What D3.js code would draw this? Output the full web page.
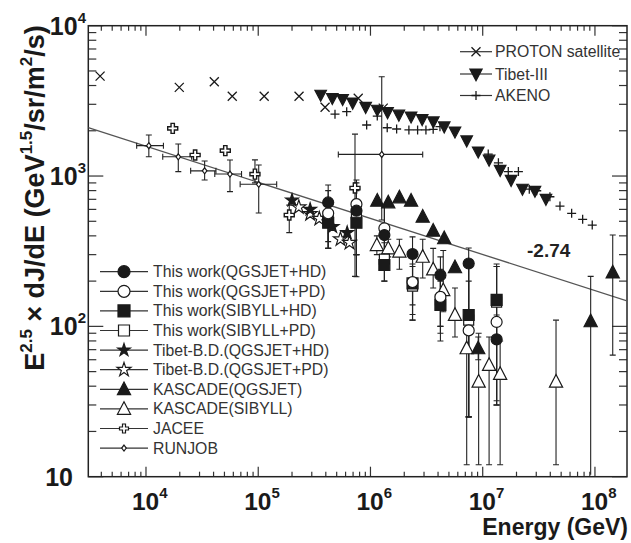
<!DOCTYPE html>
<html><head><meta charset="utf-8">
<script src="https://cdn.jsdelivr.net/npm/d3@7/dist/d3.min.js"></script>
<style>body{margin:0;background:#fff}svg{display:block}</style>
</head><body>
<script>
// ---------------- DATA ----------------
const xTickExponents = [4, 5, 6, 7, 8];
const yTickLabels = ["10", "10^2", "10^3", "10^4"];
const yTickValues = [10, 100, 1000, 10000];

const protonE = [3.9e3, 1.98e4, 4.06e4, 5.87e4, 1.13e5, 2.31e5, 3.94e5, 7.78e5, 1.3e6];
const protonF = [4620, 3890, 4240, 3390, 3390, 3390, 2865, 3290, 2830];

const tibetE = [3.6e5, 4.57e5, 5.65e5, 6.94e5, 9.06e5, 1.15e6, 1.42e6, 1.79e6, 2.30e6, 2.89e6, 3.63e6, 4.54e6, 5.66e6, 7.2e6, 9.12e6, 1.14e7, 1.43e7, 1.79e7, 2.26e7, 2.92e7, 3.66e7];
const tibetF = [3460, 3290, 3240, 3070, 2870, 2750, 2650, 2550, 2480, 2385, 2300, 2130, 1970, 1720, 1450, 1280, 1095, 940, 820, 795, 703];

const akenoE = [4.83e5, 6.14e5, 9.25e5, 1.15e6, 1.41e6, 1.71e6, 2.2e6, 2.63e6, 3.12e6, 3.62e6, 4.16e6, 1.12e7, 1.38e7, 1.69e7, 2.08e7, 2.6e7, 3.03e7, 3.97e7, 4.88e7, 6.2e7, 7.77e7, 9.46e7];
const akenoF = [2580, 2680, 2185, 2505, 2095, 2055, 2025, 2025, 2025, 2045, 2130, 1400, 1225, 1070, 1070, 818, 798, 728, 631, 565, 515, 472];

const jaceeE = [1.73e4, 2.74e4, 5.09e4, 9.35e4, 1.89e5, 7.28e5];
const jaceeF = [2075, 1380, 1475, 1030, 550, 832];
const jaceeLo = [2075, 1380, 1475, 900, 420, 215];
const jaceeHi = [2075, 1380, 1475, 1280, 640, 1900];

const runjobE = [1.06e4, 1.94e4, 3.33e4, 5.6e4, 1.01e5, 1.26e6];
const runjobF = [1592, 1343, 1083, 1031, 881, 1393];
const runjobLo = [1343, 1070, 940, 787, 568, 510];
const runjobHi = [1875, 1633, 1260, 1278, 1183, 4580];
const runjobEmin = [8.26e3, 1.41e4, 2.5e4, 4.1e4, 6.9e4, 5.17e5];
const runjobEmax = [1.43e4, 2.55e4, 4.2e4, 7.1e4, 1.46e5, 2.92e6];

const workE = [4.2e5, 7.5e5, 1.33e6, 2.37e6, 4.2e6, 7.5e6, 1.33e7];
const qgsHdF = [667, 588, 405, 303, 219, 262, 82];
const qgsHdLo = [366, 214, 256, 139, 90, 25, 32];
const qgsHdHi = [871, 940, 641, 394, 290, 332, 119];
const qgsPdF = [565, 650, 449, 197, 157, 94, 107];
const qgsPdLo = [330, 300, 260, 120, 80, 25, 30];
const qgsPdHi = [800, 900, 640, 290, 240, 200, 250];
const sibHdF = [489, 489, 256, 193, 139, 119, 150];
const sibHdLo = [330, 300, 200, 110, 100, 25, 30];
const sibHdHi = [640, 700, 320, 260, 200, 250, 250];
const sibPdF = [540, 560, 280, 185, 150, 110, 145];
const sibPdLo = [330, 300, 200, 110, 100, 25, 30];
const sibPdHi = [700, 800, 360, 250, 210, 250, 260];

const bdHdE = [2.0e5, 2.9e5, 4.6e5, 6.2e5];
const bdHdF = [690, 600, 460, 420];
const bdPdE = [2.3e5, 2.9e5, 3.5e5, 5.4e5, 6.5e5];
const bdPdF = [620, 560, 520, 380, 360];

const kasQE = [1.15e6, 1.44e6, 1.81e6, 2.30e6, 2.92e6, 3.62e6, 4.54e6, 5.66e6, 9.12e6, 9.16e7, 1.44e8];
const kasQF = [685, 667, 721, 685, 536, 432, 385, 247, 71.4, 108, 228];
const kasQLo = [685, 667, 721, 685, 536, 432, 385, 247, 60, 9, 64.4];
const kasQHi = [685, 667, 721, 685, 536, 432, 385, 247, 85, 215, 405];

const kasSE = [1.14e6, 1.44e6, 1.81e6, 2.92e6, 3.62e6, 4.45e6, 5.66e6, 7.2e6, 9.2e6, 1.14e7, 1.43e7, 4.5e7];
const kasSF = [347, 330, 314, 290, 239, 174, 119, 71.4, 42.8, 55.3, 48.2, 42.8];
const kasSLo = [300, 290, 240, 210, 180, 125, 85, 12, 12, 12, 12, 12];
const kasSHi = [400, 380, 380, 380, 330, 320, 180, 120, 90, 85, 80, 110];

const fitIndex = -2.74;
const fitNorm = Math.pow(10, 4.158); // E^2.5 dJ/dE = fitNorm * E^(2.5+index)

// ---------------- LAYOUT ----------------
const W = 631, H = 543;
const svg = d3.select("body").append("svg").attr("width", W).attr("height", H);
const FONT = "'Liberation Sans', Arial, Helvetica, sans-serif";
const INK = "#1a1a1a";

const x = d3.scaleLog().domain([3062, 1.93e8]).range([88.3, 627]);
const y = d3.scaleLog().domain([10, 1e4]).range([476.7, 25.7]);
const [x0, x1] = x.range(), [y0, y1] = [y.range()[1], y.range()[0]];

const g = svg.append("g");
const defs = svg.append("defs");
defs.append("clipPath").attr("id", "clip").append("rect")
  .attr("x", x0).attr("y", y0).attr("width", x1 - x0).attr("height", y1 - y0);

// ticks
const minorX = [], majorX = [];
for (let e = 3; e <= 8; e++) for (let m = 1; m <= 9; m++) {
  const v = m * Math.pow(10, e);
  if (v < x.domain()[0] || v > x.domain()[1]) continue;
  (m === 1 ? majorX : minorX).push(v);
}
const minorY = [], majorY = [];
for (let e = 1; e <= 4; e++) for (let m = 1; m <= 9; m++) {
  const v = m * Math.pow(10, e);
  if (v < 10 || v > 1e4) continue;
  (m === 1 ? majorY : minorY).push(v);
}
const tk = g.append("g").attr("stroke", "#333").attr("stroke-width", 1.2);
function hTick(v, len) {
  tk.append("line").attr("x1", x(v)).attr("x2", x(v)).attr("y1", y1).attr("y2", y1 - len);
  tk.append("line").attr("x1", x(v)).attr("x2", x(v)).attr("y1", y0).attr("y2", y0 + len);
}
function vTick(v, len) {
  tk.append("line").attr("y1", y(v)).attr("y2", y(v)).attr("x1", x0).attr("x2", x0 + len);
  tk.append("line").attr("y1", y(v)).attr("y2", y(v)).attr("x1", x1).attr("x2", x1 - len);
}
majorX.forEach(v => hTick(v, 10));
minorX.forEach(v => hTick(v, 5));
majorY.forEach(v => vTick(v, 15));
minorY.forEach(v => vTick(v, 8));

// frame
g.append("rect").attr("x", x0).attr("y", y0).attr("width", x1 - x0).attr("height", y1 - y0)
  .attr("fill", "none").attr("stroke", "#222").attr("stroke-width", 1.5);

// tick labels
xTickExponents.forEach(e => {
  const t = g.append("text").attr("x", x(Math.pow(10, e)) - 14).attr("y", 510)
    .attr("font-family", FONT).attr("font-weight", "bold").attr("font-size", 24.5).attr("fill", INK);
  t.append("tspan").text("10");
  t.append("tspan").attr("dy", -12).attr("font-size", 15).text(String(e));
});
yTickValues.forEach((v, i) => {
  const lab = yTickLabels[i];
  const t = g.append("text").attr("y", y(v) + 9).attr("text-anchor", "end")
    .attr("font-family", FONT).attr("font-weight", "bold").attr("font-size", 25).attr("fill", INK);
  if (lab.includes("^")) {
    const [b, p] = lab.split("^");
    t.attr("x", 86);
    t.append("tspan").text(b);
    t.append("tspan").attr("dy", -12).attr("font-size", 15).text(p);
  } else {
    t.attr("x", 73).text(lab);
  }
});

// axis titles
g.append("text").attr("x", 628).attr("y", 535).attr("text-anchor", "end")
  .attr("font-family", FONT).attr("font-weight", "bold").attr("font-size", 23).attr("fill", INK)
  .text("Energy (GeV)");
{
  const t = g.append("text").attr("transform", "translate(44,198) rotate(-90)").attr("text-anchor", "middle")
    .attr("font-family", FONT).attr("font-weight", "bold").attr("font-size", 27).attr("fill", INK);
  t.append("tspan").text("E");
  t.append("tspan").attr("dy", -12).attr("font-size", 17).text("2.5");
  t.append("tspan").attr("dy", 12).text(" \u00d7 dJ/dE (GeV");
  t.append("tspan").attr("dy", -12).attr("font-size", 17).text("1.5");
  t.append("tspan").attr("dy", 12).text("/sr/m");
  t.append("tspan").attr("dy", -12).attr("font-size", 17).text("2");
  t.append("tspan").attr("dy", 12).text("/s)");
}

const plot = g.append("g").attr("clip-path", "url(#clip)");

// fit line
const fitE = [x.domain()[0], x.domain()[1]];
plot.append("path").attr("d", d3.line().x(d => x(d)).y(d => y(fitNorm * Math.pow(d, 2.5 + fitIndex)))(fitE))
  .attr("stroke", "#555").attr("stroke-width", 1.3).attr("fill", "none");
g.append("text").attr("x", 527).attr("y", 257).attr("font-family", FONT).attr("font-weight", "bold")
  .attr("font-size", 19).attr("fill", "#222").text(fitIndex.toFixed(2));

// marker shapes
const shapes = {
  circle: (s) => d3.symbol(d3.symbolCircle, s * s * 0.785)(),
  square: (s) => d3.symbol(d3.symbolSquare, s * s)(),
  triUp: (s) => `M0,${-s * 0.6}L${s * 0.55},${s * 0.45}L${-s * 0.55},${s * 0.45}Z`,
  triDown: (s) => `M0,${s * 0.6}L${s * 0.55},${-s * 0.45}L${-s * 0.55},${-s * 0.45}Z`,
  star: (s) => d3.symbol(d3.symbolStar, s * s * 0.5)(),
  xcross: (s) => `M${-s / 2},${-s / 2}L${s / 2},${s / 2}M${-s / 2},${s / 2}L${s / 2},${-s / 2}`,
  plus: (s) => `M${-s / 2},0L${s / 2},0M0,${-s / 2}L0,${s / 2}`,
  jcross: (s) => { const a = s / 6, b = s / 2; return `M${-a},${-b}L${a},${-b}L${a},${-a}L${b},${-a}L${b},${a}L${a},${a}L${a},${b}L${-a},${b}L${-a},${a}L${-b},${a}L${-b},${-a}L${-a},${-a}Z`; },
  diamond: (s) => `M0,${-s / 2}L${s / 2.6},0L0,${s / 2}L${-s / 2.6},0Z`
};
function drawMarker(sel, shape, size, filled, sw) {
  const line = shape === "xcross" || shape === "plus";
  sel.append("path").attr("d", shapes[shape](size))
    .attr("fill", line ? "none" : (filled ? INK : "#fff"))
    .attr("stroke", INK).attr("stroke-width", sw || 1.2);
}
function errBars(Es, Fs, lo, hi, emin, emax) {
  const eg = plot.append("g").attr("stroke", "#222").attr("stroke-width", 1.1);
  Es.forEach((e, i) => {
    const cx = x(e);
    if (lo && hi && (lo[i] !== Fs[i] || hi[i] !== Fs[i])) {
      eg.append("line").attr("x1", cx).attr("x2", cx).attr("y1", y(Math.max(lo[i], 10.3))).attr("y2", y(hi[i]));
      eg.append("line").attr("x1", cx - 3).attr("x2", cx + 3).attr("y1", y(hi[i])).attr("y2", y(hi[i]));
      if (lo[i] > 10.3) eg.append("line").attr("x1", cx - 3).attr("x2", cx + 3).attr("y1", y(lo[i])).attr("y2", y(lo[i]));
    }
    if (emin && emax) {
      eg.append("line").attr("x1", x(emin[i])).attr("x2", x(emax[i])).attr("y1", y(Fs[i])).attr("y2", y(Fs[i]));
      eg.append("line").attr("x1", x(emin[i])).attr("x2", x(emin[i])).attr("y1", y(Fs[i]) - 3).attr("y2", y(Fs[i]) + 3);
      eg.append("line").attr("x1", x(emax[i])).attr("x2", x(emax[i])).attr("y1", y(Fs[i]) - 3).attr("y2", y(Fs[i]) + 3);
    }
  });
}
function points(Es, Fs, shape, size, filled, sw) {
  const pg = plot.append("g");
  Es.forEach((e, i) => {
    drawMarker(pg.append("g").attr("transform", `translate(${x(e)},${y(Fs[i])})`), shape, size, filled, sw);
  });
}

// error bars first
errBars(runjobE, runjobF, runjobLo, runjobHi, runjobEmin, runjobEmax);
errBars(jaceeE, jaceeF, jaceeLo, jaceeHi);
errBars(workE, qgsHdF, qgsHdLo, qgsHdHi);
errBars(workE, qgsPdF, qgsPdLo, qgsPdHi);
errBars(workE, sibHdF, sibHdLo, sibHdHi);
errBars(workE, sibPdF, sibPdLo, sibPdHi);
errBars(kasQE, kasQF, kasQLo, kasQHi);
errBars(kasSE, kasSF, kasSLo, kasSHi);

// markers
points(protonE, protonF, "xcross", 9, false, 1.3);
points(akenoE, akenoF, "plus", 9, false, 1.3);
points(tibetE, tibetF, "triDown", 10.5, true);
points(runjobE, runjobF, "diamond", 6, false);
points(jaceeE, jaceeF, "jcross", 10, false, 1.4);
points(bdPdE, bdPdF, "star", 11, false);
points(bdHdE, bdHdF, "star", 10, true);
points(kasSE, kasSF, "triUp", 12, false);
points(kasQE, kasQF, "triUp", 12, true);
points(workE, sibPdF, "square", 10, false);
points(workE, sibHdF, "square", 11, true);
points(workE, qgsPdF, "circle", 11, false);
points(workE, qgsHdF, "circle", 11, true);

// legends
const leftLegend = [
  ["This work(QGSJET+HD)", "circle", 12, true],
  ["This work(QGSJET+PD)", "circle", 12, false],
  ["This work(SIBYLL+HD)", "square", 12, true],
  ["This work(SIBYLL+PD)", "square", 11, false],
  ["Tibet-B.D.(QGSJET+HD)", "star", 10, true],
  ["Tibet-B.D.(QGSJET+PD)", "star", 11, false],
  ["KASCADE(QGSJET)", "triUp", 12, true],
  ["KASCADE(SIBYLL)", "triUp", 12, false],
  ["JACEE", "jcross", 9, false],
  ["RUNJOB", "diamond", 6, false]
];
leftLegend.forEach((d, i) => {
  const yy = 271.7 + i * 19.6;
  const lg = g.append("g");
  lg.append("line").attr("x1", 100).attr("x2", 148).attr("y1", yy).attr("y2", yy).attr("stroke", "#333").attr("stroke-width", 1.2);
  drawMarker(lg.append("g").attr("transform", `translate(124,${yy})`), d[1], d[2], d[3]);
  lg.append("text").attr("x", 153).attr("y", yy + 5.5).attr("font-family", FONT).attr("font-size", 15.8)
    .attr("fill", "#333").text(d[0]);
});
const rightLegend = [
  ["PROTON satellite", "xcross", 9, false, 51.7],
  ["Tibet-III", "triDown", 11, true, 74],
  ["AKENO", "plus", 9, false, 95.5]
];
rightLegend.forEach(d => {
  const yy = d[4];
  const lg = g.append("g");
  lg.append("line").attr("x1", 460).attr("x2", 492).attr("y1", yy).attr("y2", yy).attr("stroke", "#333").attr("stroke-width", 1.2);
  drawMarker(lg.append("g").attr("transform", `translate(476,${yy})`), d[1], d[2], d[3], 1.3);
  lg.append("text").attr("x", 495).attr("y", yy + 5.5).attr("font-family", FONT).attr("font-size", 15.8)
    .attr("fill", "#333").text(d[0]);
});
</script>
</body></html>
